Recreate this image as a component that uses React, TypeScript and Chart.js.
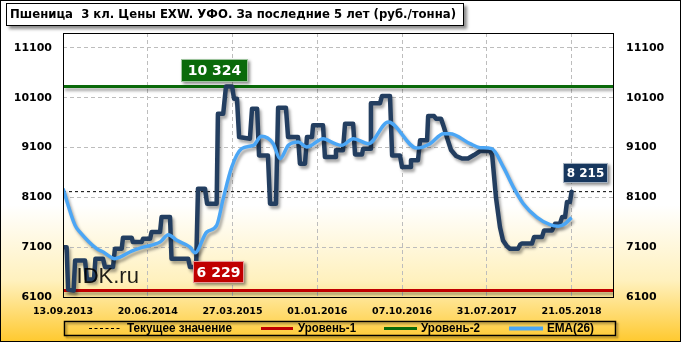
import React, { useEffect, useRef } from "react";
import { Chart, registerables } from "chart.js";

Chart.register(...registerables);

// ---------- data ----------
const TITLE = "Пшеница  3 кл. Цены EXW. УФО. За последние 5 лет (руб./тонна)";
const X_LABELS = ["13.09.2013", "20.06.2014", "27.03.2015", "01.01.2016", "07.10.2016", "31.07.2017", "21.05.2018"];
const WEEKS_PER_LABEL = 40;
const X_MAX = 260;
const Y_TICKS = [6100, 7100, 8100, 9100, 10100, 11100];
const Y_MIN = 6100;
const Y_MAX = 11400;

// price (x = weeks since 13.09.2013)
const priceX = [0, 1.7, 2.4, 5.0, 5.7, 10.4, 11.3, 14.6, 15.3, 18.9, 19.8, 23.6, 24.5, 27.7, 28.3, 32.4, 33.0, 37.1, 37.8, 41.1, 41.8, 45.8, 46.5, 50.5, 51.2, 59.1, 59.9, 62.8, 63.7, 67.0, 68.0, 72.5, 73.1, 75.6, 76.9, 79.8, 80.7, 82.1, 83.1, 88.2, 89.2, 91.6, 92.5, 96.7, 97.7, 100.5, 101.5, 105.2, 106.2, 110.9, 111.8, 114.2, 115.1, 117.5, 118.0, 122.7, 123.6, 128.4, 128.8, 132.1, 133.1, 136.9, 137.8, 141.1, 141.6, 144.9, 145.3, 149.6, 150.5, 154.3, 155.3, 159.0, 160.0, 163.8, 164.2, 167.5, 168.5, 171.8, 172.3, 175.1, 176.0, 178.4, 179.8, 181.2, 183.1, 185.5, 188.3, 191.1, 193.9, 196.8, 201.5, 202.5, 204.3, 206.2, 207.6, 209.5, 210.9, 214.7, 215.7, 216.6, 221.3, 222.3, 226.0, 227.0, 230.8, 232.2, 234.5, 235.5, 236.9, 237.8, 239.2, 240.0];
const priceY = [7100, 7100, 6250, 6229, 6835, 6835, 6450, 6450, 6869, 6869, 6700, 6700, 7070, 7070, 7290, 7290, 7202, 7202, 7270, 7270, 7403, 7403, 7704, 7704, 6869, 6869, 6700, 6700, 8275, 8275, 7973, 7973, 9780, 9780, 10324, 10324, 10080, 10080, 9311, 9278, 9880, 9880, 8943, 8943, 7973, 7973, 9900, 9900, 9311, 9311, 8777, 8777, 9311, 9311, 9546, 9546, 8910, 8910, 9044, 9044, 9580, 9580, 8963, 8963, 9078, 9078, 9990, 9990, 10134, 10134, 8943, 8943, 8708, 8708, 8843, 8843, 9245, 9245, 9732, 9732, 9680, 9680, 9500, 9300, 9050, 8930, 8880, 8880, 8950, 9030, 9030, 8950, 8100, 7500, 7237, 7120, 7070, 7070, 7150, 7175, 7175, 7303, 7303, 7437, 7437, 7572, 7572, 7704, 7704, 8005, 8005, 8215];

// EMA(26)
const emaX = [0, 5.7, 8.0, 15.9, 19.0, 24.5, 26.9, 32.4, 37.9, 45.8, 49.7, 53.7, 59.9, 62.3, 67.8, 72.5, 75.6, 79.6, 84.3, 89.8, 93.7, 99.2, 102.4, 106.3, 111.0, 115.0, 122.8, 128.4, 131.5, 137.0, 144.1, 153.5, 166.9, 173.2, 179.5, 182.6, 192.1, 196.8, 202.3, 207.8, 212.5, 217.2, 223.5, 229.8, 233.7, 236.9, 240.0];
const emaY = [8275, 7538, 7403, 7070, 7002, 6869, 6901, 7022, 7102, 7202, 7351, 7237, 7102, 6990, 7403, 7538, 8074, 8708, 9078, 9144, 9325, 9178, 8877, 9144, 9211, 9110, 9278, 9178, 9144, 9278, 9178, 9612, 9090, 9178, 9379, 9379, 9178, 9098, 9078, 8708, 8307, 7973, 7704, 7552, 7518, 7572, 7693];

const CURRENT = 8215;
const LEVEL_1 = 6229;
const LEVEL_2 = 10324;
const MAX_WEEK = 78.3;

const LEGEND_NAMES = ["Текущее значение", "Уровень-1", "Уровень-2", "EMA(26)"];
const WATERMARK = "IDK.ru";

// ---------- helpers ----------
const fmt = (v: number) => String(v).replace(/\B(?=(\d{3})+(?!\d))/g, " ");
const pts = (xs: number[], ys: number[]) => xs.map((x, i) => ({ x, y: ys[i] }));
const flat = (v: number) => [{ x: 0, y: v }, { x: X_MAX, y: v }];

const COLORS = {
  price: "#233E60",
  ema: "#4BA6F5",
  current: "#000000",
  level1: "#C00000",
  level2: "#0A6A0A",
};

// draw text with a given font size, horizontally squeezed to a target width
function squeezedText(ctx: CanvasRenderingContext2D, text: string, font: string, x: number, y: number, target: number) {
  ctx.save();
  ctx.font = font;
  const w = ctx.measureText(text).width;
  const k = Math.min(1, target / w);
  ctx.translate(x, y);
  ctx.scale(k, 1);
  ctx.fillText(text, 0, 0);
  ctx.restore();
}

function box(ctx: CanvasRenderingContext2D, cx: number, cy: number, w: number, h: number, bg: string, text: string, size: number) {
  const x = Math.round(cx - w / 2);
  const y = Math.round(cy - h / 2);
  ctx.save();
  ctx.shadowColor = "rgba(0,0,0,0.45)";
  ctx.shadowBlur = 3;
  ctx.shadowOffsetX = 2;
  ctx.shadowOffsetY = 2;
  ctx.fillStyle = bg;
  ctx.fillRect(x, y, w, h);
  ctx.restore();
  ctx.save();
  ctx.strokeStyle = "rgba(255,255,255,0.6)";
  ctx.lineWidth = 1;
  ctx.strokeRect(x + 0.5, y + 0.5, w - 1, h - 1);
  ctx.fillStyle = "#FFFFFF";
  ctx.font = `bold ${size}px "DejaVu Sans"`;
  ctx.textAlign = "center";
  ctx.textBaseline = "middle";
  ctx.fillText(text, x + w / 2, y + h / 2 + 1);
  ctx.restore();
}

const decor = {
  id: "decor",
  beforeDraw(chart: any) {
    const { ctx, width, height } = chart;
    ctx.save();
    const g = ctx.createLinearGradient(0, 0, 0, height);
    g.addColorStop(0, "#FFFFFF");
    g.addColorStop(0.6, "#FFFFFF");
    g.addColorStop(0.82, "#FFF1BE");
    g.addColorStop(1, "#FFC92E");
    ctx.fillStyle = g;
    ctx.fillRect(0, 0, width, height);
    ctx.restore();
  },
  beforeDatasetDraw(chart: any, args: any) {
    const ctx = chart.ctx;
    ctx.save();
    const ds = chart.data.datasets[args.index];
    if (!ds.borderDash) {
      ctx.shadowColor = "rgba(0,0,0,0.35)";
      ctx.shadowBlur = 3;
      ctx.shadowOffsetX = 2;
      ctx.shadowOffsetY = 3;
    }
  },
  afterDatasetDraw(chart: any) {
    chart.ctx.restore();
  },
  afterDraw(chart: any) {
    const { ctx, chartArea, width, height } = chart;
    const xs = chart.scales.x;
    const ys = chart.scales.y;
    const { left, right, top, bottom } = chartArea;

    // plot frame
    ctx.save();
    ctx.strokeStyle = "#000";
    ctx.lineWidth = 1;
    ctx.strokeRect(Math.round(left) + 0.5, Math.round(top) + 0.5, Math.round(right - left) - 1, Math.round(bottom - top));
    // outer frame
    ctx.strokeRect(0.5, 0.5, width - 1, height - 1);
    ctx.restore();

    // watermark
    ctx.save();
    ctx.fillStyle = "rgba(0,0,0,0.88)";
    ctx.font = `22px "Liberation Sans"`;
    ctx.textBaseline = "alphabetic";
    ctx.fillText(WATERMARK, xs.getPixelForValue(6.4), ys.getPixelForValue(LEVEL_1) - 8);
    ctx.restore();

    // value labels
    const mx = xs.getPixelForValue(MAX_WEEK);
    box(ctx, mx - 14, ys.getPixelForValue(LEVEL_2) - 16, 67, 23, COLORS.level2, fmt(LEVEL_2), 14);
    box(ctx, mx - 10, ys.getPixelForValue(LEVEL_1) - 18.5, 51, 22, COLORS.level1, fmt(LEVEL_1), 14);
    const lx = xs.getPixelForValue(priceX[priceX.length - 1]);
    box(ctx, lx + 14, ys.getPixelForValue(CURRENT) - 18.5, 45, 20, "#17375E", fmt(CURRENT), 12);

    // title box
    ctx.save();
    ctx.shadowColor = "rgba(0,0,0,0.45)";
    ctx.shadowBlur = 3;
    ctx.shadowOffsetX = 3;
    ctx.shadowOffsetY = 3;
    ctx.fillStyle = "#FFFFFF";
    ctx.fillRect(6, 3, 458, 23);
    ctx.restore();
    ctx.save();
    ctx.strokeStyle = "#000";
    ctx.lineWidth = 1;
    ctx.strokeRect(6.5, 3.5, 457, 22);
    ctx.fillStyle = "#000";
    ctx.textBaseline = "middle";
    ctx.textAlign = "left";
    squeezedText(ctx, TITLE, `bold 13px "DejaVu Sans"`, 10, 15, 446);
    ctx.restore();

    // legend
    ctx.save();
    ctx.shadowColor = "rgba(0,0,0,0.35)";
    ctx.shadowBlur = 2;
    ctx.shadowOffsetX = 2;
    ctx.shadowOffsetY = 2;
    ctx.strokeStyle = "#000";
    ctx.lineWidth = 1.5;
    ctx.strokeRect(64.5, 321.5, 551, 14);
    ctx.restore();
    const items = [
      { x0: 89, x1: 121, tx: 127, tw: 105, color: COLORS.current, w: 1, dash: [3, 2.5] },
      { x0: 261, x1: 293, tx: 298, tw: 58, color: COLORS.level1, w: 3, dash: [] },
      { x0: 384, x1: 417, tx: 421, tw: 59, color: COLORS.level2, w: 3, dash: [] },
      { x0: 509, x1: 543, tx: 547, tw: 47, color: COLORS.ema, w: 4, dash: [] },
    ];
    const ly = 328.5;
    items.forEach((it, i) => {
      ctx.save();
      ctx.strokeStyle = it.color;
      ctx.lineWidth = it.w;
      ctx.setLineDash(it.dash);
      ctx.beginPath();
      ctx.moveTo(it.x0, ly);
      ctx.lineTo(it.x1, ly);
      ctx.stroke();
      ctx.restore();
      ctx.save();
      ctx.fillStyle = "#000";
      ctx.textBaseline = "middle";
      squeezedText(ctx, LEGEND_NAMES[i], `bold 12.5px "Liberation Sans"`, it.tx, ly + 0.5, it.tw);
      ctx.restore();
    });
  },
};

export default function App() {
  const ref = useRef<HTMLCanvasElement>(null);
  useEffect(() => {
    const canvas = ref.current;
    if (!canvas) return;
    const tickFont = { family: '"DejaVu Sans"', size: 11, weight: "bold" as const };
    const chart = new Chart(canvas, {
      type: "line",
      data: {
        datasets: [
          {
            label: "EMA(26)",
            data: pts(emaX, emaY),
            borderColor: COLORS.ema,
            borderWidth: 3.5,
            pointRadius: 0,
            cubicInterpolationMode: "monotone",
            order: 0,
          },
          {
            label: "Цена",
            data: pts(priceX, priceY),
            borderColor: COLORS.price,
            borderWidth: 4.5,
            pointRadius: 0,
            tension: 0,
            borderJoinStyle: "round",
            borderCapStyle: "round",
            order: 1,
          },
          {
            label: LEGEND_NAMES[0],
            data: flat(CURRENT),
            borderColor: COLORS.current,
            borderWidth: 1,
            borderDash: [3, 3],
            pointRadius: 0,
            order: 2,
          },
          {
            label: LEGEND_NAMES[1],
            data: flat(LEVEL_1),
            borderColor: COLORS.level1,
            borderWidth: 3,
            pointRadius: 0,
            order: 3,
          },
          {
            label: LEGEND_NAMES[2],
            data: flat(LEVEL_2),
            borderColor: COLORS.level2,
            borderWidth: 3,
            pointRadius: 0,
            order: 3,
          },
        ] as any,
      },
      options: {
        animation: false,
        responsive: false,
        maintainAspectRatio: false,
        layout: { padding: { top: 33, left: 0, right: 0, bottom: 0 } },
        plugins: { legend: { display: false }, tooltip: { enabled: false }, title: { display: false } },
        scales: {
          x: {
            type: "linear",
            min: 0,
            max: X_MAX,
            afterFit: (s: any) => {
              s.height = 45;
            },
            afterBuildTicks: (s: any) => {
              s.ticks = X_LABELS.map((_, i) => ({ value: i * WEEKS_PER_LABEL }));
            },
            grid: { color: "#BDBDBD", drawTicks: false, lineWidth: 1 },
            border: { display: false, dash: [4, 3] },
            ticks: {
              autoSkip: false,
              maxRotation: 0,
              padding: 9,
              color: "#000",
              font: { family: '"DejaVu Sans"', size: 9.5, weight: "bold" },
              callback: (v: any) => X_LABELS[Math.round(Number(v) / WEEKS_PER_LABEL)] ?? "",
            },
          },
          y: {
            position: "left",
            min: Y_MIN,
            max: Y_MAX,
            afterFit: (s: any) => {
              s.width = 63;
            },
            afterBuildTicks: (s: any) => {
              s.ticks = Y_TICKS.map((v) => ({ value: v }));
            },
            grid: { color: "#BDBDBD", drawTicks: false, lineWidth: 1 },
            border: { display: false, dash: [4, 3] },
            ticks: { padding: 11, color: "#000", font: tickFont, callback: (v: any) => String(v) },
          },
          y2: {
            position: "right",
            min: Y_MIN,
            max: Y_MAX,
            afterFit: (s: any) => {
              s.width = 67;
            },
            afterBuildTicks: (s: any) => {
              s.ticks = Y_TICKS.map((v) => ({ value: v }));
            },
            grid: { display: false, drawTicks: false },
            border: { display: false },
            ticks: { padding: 12, color: "#000", font: tickFont, callback: (v: any) => String(v) },
          },
        },
      } as any,
      plugins: [decor],
    });
    return () => chart.destroy();
  }, []);
  return (
    <div style={{ position: "fixed", left: 0, top: 0, width: 681, height: 342 }}>
      <canvas ref={ref} width={681} height={342} style={{ display: "block", width: 681, height: 342 }} />
    </div>
  );
}
